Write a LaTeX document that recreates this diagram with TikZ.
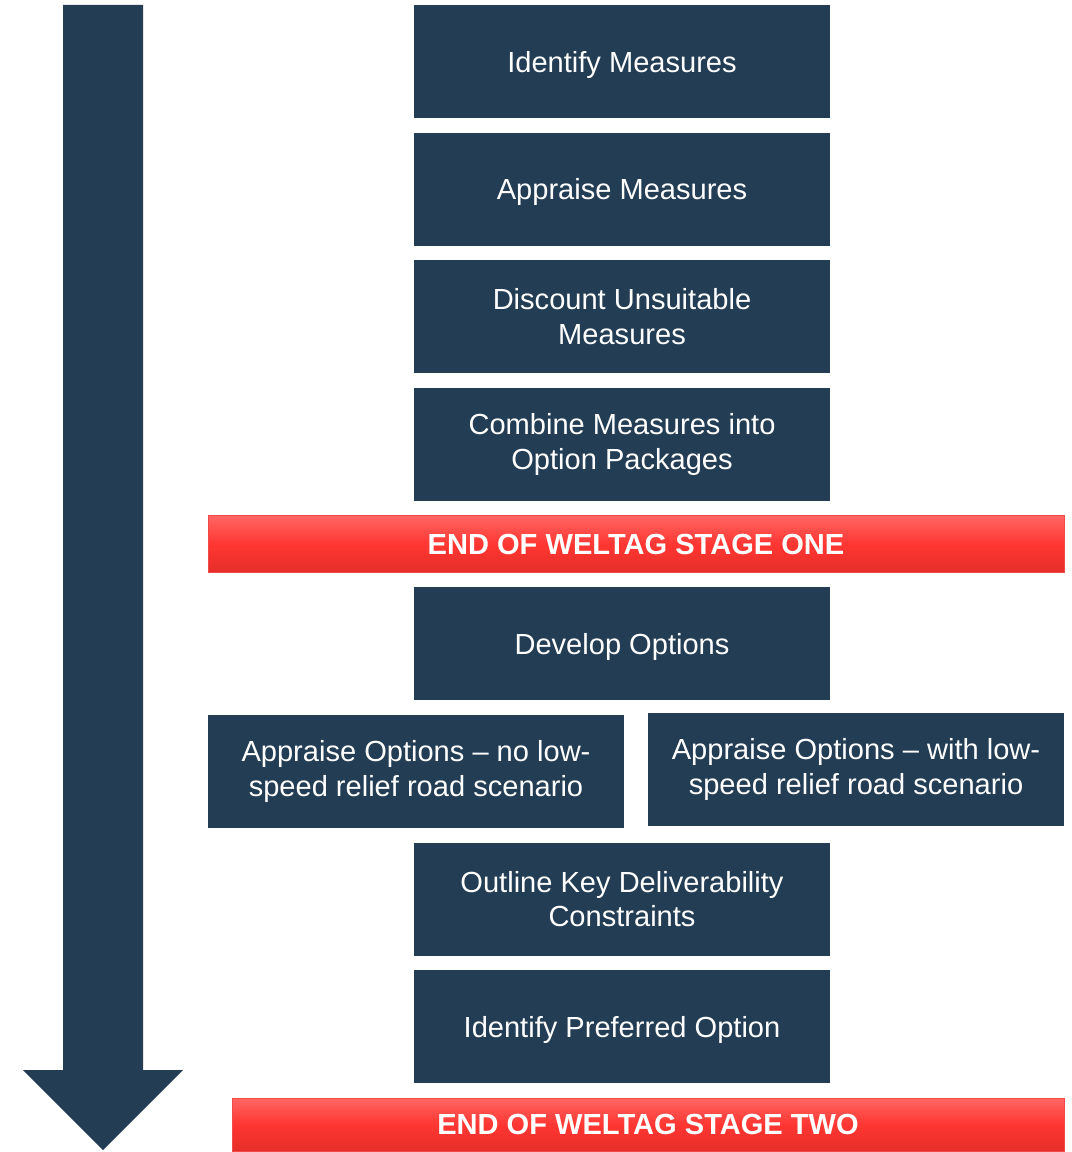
\documentclass[tikz,border=0pt]{standalone}
\usepackage{fontspec}
\setmainfont{Liberation Sans}
\usepackage{xcolor}
\usepackage{tikz}
\usetikzlibrary{positioning}
\definecolor{navy}{HTML}{223D54}
\definecolor{bartop}{HTML}{FF6663}
\definecolor{barmid}{HTML}{FF3632}
\definecolor{barbot}{HTML}{E52E28}
\definecolor{baredge}{HTML}{F24A46}

\begin{document}
\begin{tikzpicture}[x=0.75pt,y=-0.75pt,
  node distance=10.6pt,
  stepbox/.style={rectangle,fill=navy,text=white,minimum width=312pt,minimum height=84.75pt,align=center,inner sep=0pt,font=\fontsize{21.8}{26}\selectfont},
  oneline/.style={text depth=0pt},
  endbar/.style={rectangle,draw=baredge,top color=bartop,bottom color=barbot,middle color=barmid,text=white,align=center,inner sep=0pt,font=\fontsize{21.8}{26}\selectfont\bfseries}]
\useasboundingbox (0,0) rectangle (1071,1152);
% time arrow
\fill[navy] (63,5) -- (143,5) -- (143,1070) -- (183,1070) -- (103,1150) -- (23,1070) -- (63,1070) -- cycle;
% stage one
\node[stepbox,oneline] (idm) at (622,61.5) {Identify Measures};
\node[stepbox,oneline,below=of idm] (apm) {Appraise Measures};
\node[stepbox,below=of apm] (dis) {Discount Unsuitable\\Measures};
\node[stepbox,below=of dis] (com) {Combine Measures into\\Option Packages};
\node[endbar,below=of com,xshift=10.5pt,minimum width=642pt,minimum height=42.75pt] (end1) {END OF WELTAG STAGE ONE};
% stage two
\node[stepbox,oneline,below=of end1,xshift=-10.5pt] (dev) {Develop Options};
\node[stepbox,below=of dev,xshift=-154.5pt] (apno) {Appraise Options -- no low-\\speed relief road scenario};
\node[stepbox,below=of dev,xshift=175.5pt,yshift=1.5pt] (apwith) {Appraise Options -- with low-\\speed relief road scenario};
\coordinate (mid) at (apno.south -| dev);
\node[stepbox,below=of mid] (out) {Outline Key Deliverability\\Constraints};
\node[stepbox,oneline,below=of out] (pref) {Identify Preferred Option};
\node[endbar,below=of pref,xshift=19.5pt,minimum width=624pt,minimum height=39.75pt] (end2) {END OF WELTAG STAGE TWO};
\end{tikzpicture}
\end{document}
